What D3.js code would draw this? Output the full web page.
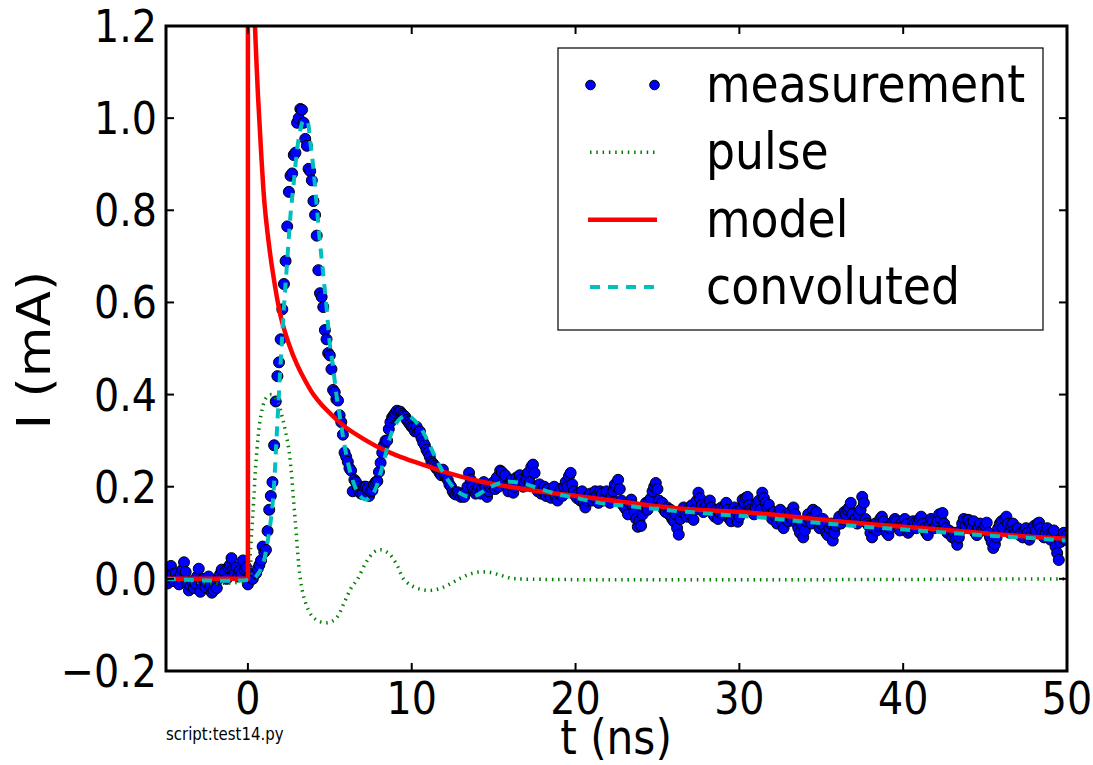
<!DOCTYPE html>
<html>
<head>
<meta charset="utf-8">
<style>
  body { margin: 0; background: #fff; }
  svg { display: block; font-family: 'DejaVu Sans', sans-serif; }
</style>
</head>
<body>
<svg width="1093" height="765"></svg>
<script src="https://d3js.org/d3.v7.min.js"></script>
<script>
// measurement: one sample every 0.1 ns, three blocks with their own start time
let measStep = 0.1
let measStarts = [-5.0, 0.0, 14.0]
let measA = [
  0.005,-0.01,0.02,0.028,0.01,-0.005,0.012,0.0,-0.012,0.008,
  0.02,0.036,0.015,-0.01,-0.025,-0.015,-0.005,-0.02,-0.01,0.005,
  0.022,-0.028,-0.01,0.0,-0.018,-0.008,0.005,-0.015,-0.03,-0.025,
  -0.012,-0.02,0.0,0.01,0.02,0.005,0.015,0.0,0.025,0.03,
  0.045,0.02,0.012,0.025,0.005,0.018,0.01,0.04,0.02,0.025]
let measB = [
  -0.012,0.005,0.01,0.0,0.015,0.012,0.022,0.03,0.04,0.07,
  0.058,0.063,0.104,0.15,0.18,0.21,0.29,0.385,0.44,0.47,
  0.52,0.585,0.64,0.69,0.765,0.84,0.875,0.88,0.92,0.925,
  0.99,1.0,1.02,1.018,0.99,0.955,0.94,0.89,0.885,0.865,
  0.82,0.79,0.745,0.67,0.62,0.612,0.59,0.54,0.52,0.49,
  0.485,0.455,0.41,0.405,0.39,0.387,0.355,0.34,0.313,0.274,
  0.265,0.254,0.24,0.235,0.19,0.215,0.21,0.2,0.19,0.185,
  0.185,0.2,0.2,0.195,0.18,0.19,0.192,0.205,0.21,0.212,
  0.232,0.252,0.274,0.29,0.3,0.3,0.325,0.34,0.35,0.355,
  0.36,0.365,0.362,0.363,0.358,0.355,0.352,0.345,0.34,0.335,
  0.33,0.328,0.32,0.33,0.318,0.32,0.305,0.296,0.29,0.28,
  0.274,0.265,0.254,0.25,0.245,0.24,0.237,0.23,0.225,0.237,
  0.225,0.22,0.215,0.205,0.2,0.19,0.185,0.183,0.188,0.183,
  0.178,0.18,0.178,0.19,0.2,0.23,0.215,0.2,0.19,0.185]
let measC = [
  0.19,0.2,0.185,0.195,0.21,0.2,0.178,0.19,0.2,0.205,
  0.21,0.195,0.22,0.2,0.235,0.232,0.21,0.225,0.2,0.19,
  0.205,0.215,0.187,0.2,0.22,0.21,0.225,0.215,0.2,0.21,
  0.215,0.23,0.21,0.243,0.248,0.23,0.2,0.19,0.205,0.185,
  0.19,0.2,0.18,0.195,0.185,0.176,0.19,0.2,0.178,0.17,
  0.185,0.195,0.18,0.2,0.21,0.2,0.223,0.23,0.205,0.19,
  0.18,0.175,0.185,0.17,0.19,0.165,0.155,0.17,0.18,0.185,
  0.17,0.178,0.19,0.18,0.165,0.19,0.185,0.17,0.175,0.19,
  0.17,0.165,0.18,0.19,0.205,0.2,0.215,0.195,0.17,0.16,
  0.155,0.15,0.14,0.165,0.172,0.16,0.145,0.13,0.113,0.125,
  0.115,0.14,0.155,0.165,0.15,0.17,0.175,0.19,0.2,0.208,
  0.195,0.17,0.16,0.165,0.15,0.145,0.155,0.14,0.15,0.13,
  0.125,0.14,0.11,0.096,0.13,0.145,0.155,0.14,0.135,0.15,
  0.14,0.16,0.128,0.15,0.17,0.187,0.175,0.16,0.145,0.155,
  0.16,0.15,0.17,0.155,0.14,0.135,0.15,0.13,0.145,0.155,
  0.14,0.155,0.165,0.15,0.13,0.125,0.14,0.155,0.145,0.124,
  0.135,0.15,0.172,0.165,0.176,0.178,0.16,0.15,0.145,0.14,
  0.155,0.165,0.17,0.15,0.187,0.175,0.165,0.155,0.161,0.14,
  0.13,0.145,0.135,0.12,0.14,0.15,0.125,0.11,0.135,0.14,
  0.125,0.145,0.13,0.155,0.14,0.12,0.11,0.1,0.12,0.09,
  0.105,0.125,0.14,0.13,0.12,0.15,0.135,0.145,0.125,0.11,
  0.12,0.13,0.115,0.1,0.095,0.11,0.12,0.083,0.1,0.115,
  0.125,0.135,0.12,0.13,0.145,0.14,0.15,0.155,0.165,0.14,
  0.125,0.13,0.12,0.14,0.15,0.178,0.165,0.13,0.12,0.115,
  0.1,0.09,0.11,0.12,0.105,0.115,0.13,0.135,0.125,0.11,
  0.1,0.095,0.11,0.12,0.125,0.13,0.125,0.115,0.105,0.12,
  0.115,0.13,0.118,0.1,0.105,0.11,0.125,0.12,0.11,0.12,
  0.13,0.135,0.12,0.11,0.1,0.095,0.115,0.13,0.125,0.11,
  0.115,0.125,0.14,0.13,0.143,0.12,0.11,0.1,0.105,0.095,
  0.09,0.1,0.085,0.074,0.09,0.105,0.12,0.13,0.115,0.128,
  0.128,0.12,0.11,0.125,0.1,0.095,0.11,0.12,0.105,0.11,
  0.115,0.122,0.1,0.09,0.08,0.067,0.075,0.09,0.11,0.12,
  0.125,0.11,0.13,0.135,0.12,0.1,0.115,0.12,0.105,0.1,
  0.11,0.095,0.1,0.09,0.105,0.11,0.1,0.085,0.095,0.11,
  0.115,0.105,0.12,0.122,0.11,0.1,0.09,0.1,0.11,0.095,
  0.085,0.095,0.105,0.07,0.056,0.041,0.08,0.09,0.1,0.085,
  0.095]

// pulse (green dotted)
let pulseT = [-5,0,0.15,0.3,0.55,0.8,1.1,1.45,1.8,2.1,2.5,2.87,3.2,3.5,3.9,4.4,4.9,5.4,5.9,6.3,6.7,7.2,7.7,8.1,8.6,9.1,9.5,10.0,10.6,11.2,11.8,12.4,13.0,13.6,14.2,14.8,15.4,16.0,16.5,50]
let pulseI = [0,0,0.06,0.14,0.28,0.355,0.392,0.40,0.385,0.35,0.28,0.135,0.0,-0.05,-0.08,-0.093,-0.095,-0.085,-0.05,-0.02,0.0,0.035,0.058,0.063,0.055,0.03,0.0,-0.015,-0.023,-0.025,-0.02,-0.01,0.002,0.011,0.015,0.014,0.008,0.002,0,0]

// model (red): zero before t=0, jump, then decay
let modelStepT = [-5, 0, 0]
let modelStepI = [0, 0, 3.0]
let modelT = [0.2,0.3,0.43,0.6,0.8,1.0,1.2,1.5,2.0,2.5,3.0,3.5,4.0,4.5,5.0,5.5,6,7,8,9,10,11,12,13,14,15,16,18,20,22,24,26,28,30,33,36,40,43,46,50]
let modelI = [1.5,1.32,1.2,1.06,0.93,0.82,0.75,0.67,0.57,0.51,0.465,0.43,0.40,0.378,0.36,0.343,0.328,0.305,0.285,0.269,0.256,0.244,0.232,0.222,0.213,0.206,0.2,0.189,0.18,0.171,0.162,0.154,0.149,0.145,0.136,0.125,0.113,0.105,0.096,0.087]

// convoluted (cyan dashed)
let convT = [-5,0.3,0.6,0.9,1.2,1.5,1.8,2.0,2.2,2.4,2.6,2.8,3.0,3.2,3.4,3.6,3.8,4.0,4.2,4.4,4.6,4.8,5.0,5.2,5.4,5.6,5.8,6.0,6.3,6.6,6.9,7.2,7.5,7.8,8.1,8.4,8.7,9.0,9.3,9.6,9.9,10.2,10.5,10.8,11.1,11.4,11.7,12.0,12.3,12.6,12.9,13.2,13.6,14.0,14.5,15.0,15.5,16.0,16.5,17.0,17.5,18,19,20,21,22,23,24,25,26,27,28,29,30,32,34,36,38,40,42,44,46,48,50]
let convI = [0,0,0.01,0.03,0.08,0.16,0.34,0.47,0.59,0.69,0.79,0.86,0.93,0.975,0.995,0.995,0.95,0.89,0.81,0.73,0.66,0.59,0.51,0.46,0.40,0.355,0.31,0.27,0.225,0.195,0.178,0.172,0.178,0.196,0.23,0.27,0.31,0.335,0.348,0.353,0.352,0.343,0.33,0.312,0.29,0.267,0.245,0.226,0.21,0.196,0.187,0.181,0.178,0.182,0.193,0.203,0.209,0.211,0.209,0.205,0.199,0.193,0.183,0.176,0.168,0.162,0.159,0.155,0.152,0.148,0.145,0.142,0.139,0.137,0.131,0.124,0.118,0.112,0.107,0.102,0.097,0.092,0.088,0.083]

let xTicks = [0, 10, 20, 30, 40, 50]
let yTicks = [-0.2, 0.0, 0.2, 0.4, 0.6, 0.8, 1.0, 1.2]
let legendNames = ["measurement", "pulse", "model", "convoluted"]

let svg = d3.select("svg")
let margin = {top: 26, right: 26, bottom: 94, left: 166}
let plotW = 1067 - margin.left
let plotH = 671 - margin.top
let sx = 0.88   // the picture is a bit narrower than tall

let x = d3.scaleLinear().domain([-5, 50]).range([margin.left, margin.left + plotW])
let y = d3.scaleLinear().domain([-0.2, 1.2]).range([margin.top + plotH, margin.top])

svg.append("defs").append("clipPath").attr("id", "plotclip")
  .append("rect")
  .attr("x", margin.left).attr("y", margin.top)
  .attr("width", plotW).attr("height", plotH)

let meas = []
;[measA, measB, measC].forEach((arr, k) => {
  arr.forEach((v, i) => meas.push({t: measStarts[k] + i * measStep, v: v}))
})

let plot = svg.append("g").attr("clip-path", "url(#plotclip)")

plot.append("g")
  .selectAll("circle")
  .data(meas)
  .join("circle")
  .attr("cx", d => x(d.t))
  .attr("cy", d => y(d.v))
  .attr("r", 5.5)
  .attr("fill", "#0000ff")
  .attr("stroke", "#000")
  .attr("stroke-width", 1)

let line = d3.line()
  .x(d => x(d[0]))
  .y(d => y(d[1]))
  .curve(d3.curveCatmullRom.alpha(0.5))
let straight = d3.line()
  .x(d => x(d[0]))
  .y(d => y(d[1]))

plot.append("path")
  .attr("d", line(d3.zip(pulseT, pulseI)))
  .attr("fill", "none")
  .attr("stroke", "#008000")
  .attr("stroke-width", 3.5)
  .attr("stroke-dasharray", "1.5,4.8")

plot.append("path")
  .attr("d", straight(d3.zip(modelStepT, modelStepI)) + line(d3.zip(modelT, modelI)).replace(/^M/, "L"))
  .attr("fill", "none")
  .attr("stroke", "#ff0000")
  .attr("stroke-width", 4.5)
  .attr("stroke-linejoin", "round")

plot.append("path")
  .attr("d", line(d3.zip(convT, convI)))
  .attr("fill", "none")
  .attr("stroke", "#00bfbf")
  .attr("stroke-width", 4)
  .attr("stroke-dasharray", "10,8")

// frame
svg.append("rect")
  .attr("x", margin.left).attr("y", margin.top)
  .attr("width", plotW).attr("height", plotH)
  .attr("fill", "none")
  .attr("stroke", "#000")
  .attr("stroke-width", 3)

// ticks pointing inwards on all four sides
let tickLen = 8
let ticks = svg.append("g").attr("stroke", "#000").attr("stroke-width", 2)
xTicks.forEach(t => {
  ticks.append("line").attr("x1", x(t)).attr("x2", x(t))
    .attr("y1", margin.top + plotH).attr("y2", margin.top + plotH - tickLen)
  ticks.append("line").attr("x1", x(t)).attr("x2", x(t))
    .attr("y1", margin.top).attr("y2", margin.top + tickLen)
})
yTicks.forEach(t => {
  ticks.append("line").attr("y1", y(t)).attr("y2", y(t))
    .attr("x1", margin.left).attr("x2", margin.left + tickLen)
  ticks.append("line").attr("y1", y(t)).attr("y2", y(t))
    .attr("x1", margin.left + plotW).attr("x2", margin.left + plotW - tickLen)
})

function label(px, py, txt, size, anchor, rot) {
  return svg.append("text")
    .attr("transform", `translate(${px},${py}) scale(${sx},1)` + (rot ? ` rotate(${rot})` : ""))
    .attr("text-anchor", anchor)
    .style("font-size", size + "px")
    .attr("fill", "#000")
    .text(txt)
}

let fmt = d => (d < 0 ? "\u2212" : "") + Math.abs(d).toFixed(1)
xTicks.forEach(t => label(x(t), 714, t, 45, "middle"))
yTicks.forEach(t => label(157, y(t) + 16, fmt(t), 45, "end"))

label(616, 754, "t (ns)", 48, "middle")
label(50, 350, "I (mA)", 52, "middle", -90)
label(166, 740, "script:test14.py", 17, "start")

// legend
let lg = svg.append("g")
lg.append("rect")
  .attr("x", 558).attr("y", 48)
  .attr("width", 485).attr("height", 282)
  .attr("fill", "#fff")
  .attr("stroke", "#000")
  .attr("stroke-width", 1.2)

let rowY = d3.scalePoint().domain(legendNames).range([85, 287])
let lx0 = 588, lx1 = 657

;[lx0 + 2.5, lx1 - 2.5].forEach(cx => {
  lg.append("circle").attr("cx", cx).attr("cy", rowY("measurement"))
    .attr("r", 4.8).attr("fill", "#0000ff").attr("stroke", "#000").attr("stroke-width", 1)
})
lg.append("line").attr("x1", lx0 + 2).attr("x2", lx1 - 2)
  .attr("y1", rowY("pulse")).attr("y2", rowY("pulse"))
  .attr("stroke", "#008000").attr("stroke-width", 3.5).attr("stroke-dasharray", "1.5,4.8")
lg.append("line").attr("x1", lx0).attr("x2", lx1)
  .attr("y1", rowY("model")).attr("y2", rowY("model"))
  .attr("stroke", "#ff0000").attr("stroke-width", 4.5)
lg.append("line").attr("x1", lx0 + 2).attr("x2", lx1)
  .attr("y1", rowY("convoluted")).attr("y2", rowY("convoluted"))
  .attr("stroke", "#00bfbf").attr("stroke-width", 4).attr("stroke-dasharray", "10,8")

legendNames.forEach(n => label(706, rowY(n) + 17, n, 52, "start"))
</script>
</body>
</html>
